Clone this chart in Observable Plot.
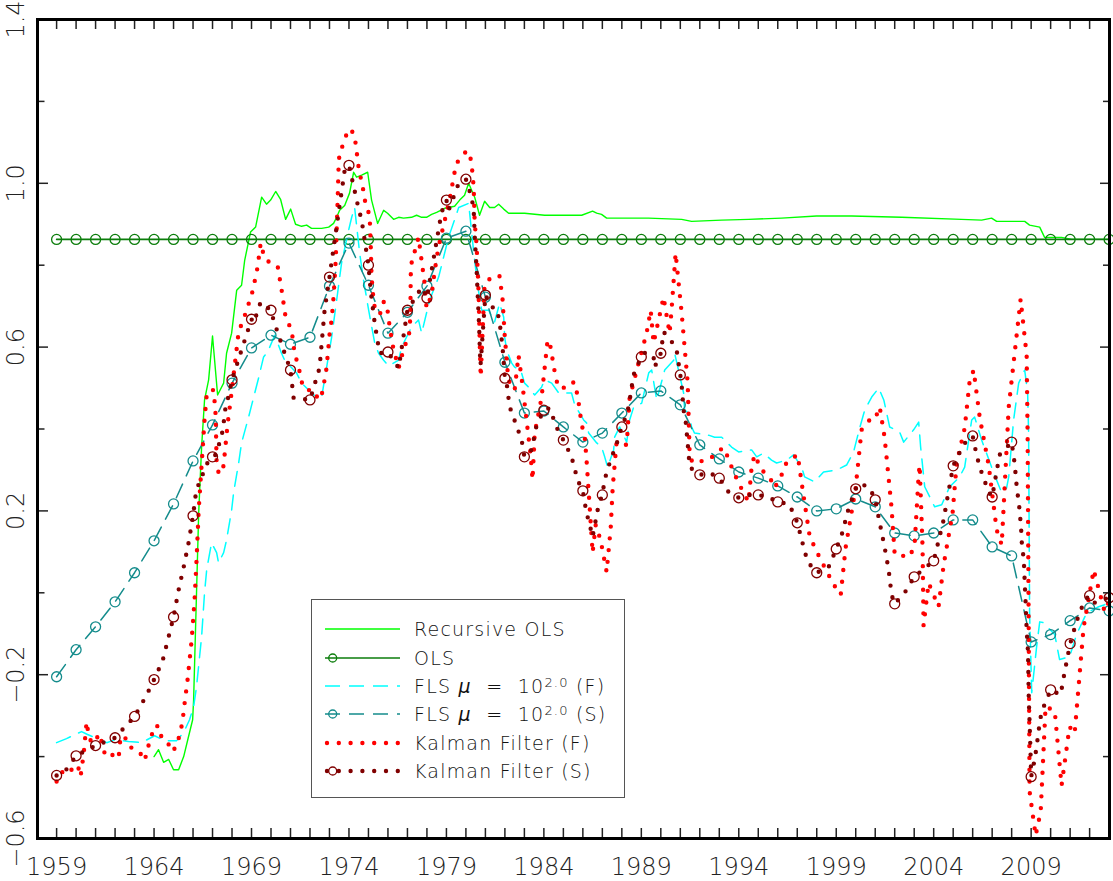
<!DOCTYPE html>
<html><head><meta charset="utf-8">
<script src="https://cdn.jsdelivr.net/npm/d3@7"></script>
<script src="https://cdn.jsdelivr.net/npm/@observablehq/plot@0.6"></script>
<style>
html,body{margin:0;padding:0;background:#fff;}
#wrap{position:relative;width:1113px;height:881px;overflow:hidden;}
#wrap svg text{font-weight:200;}
#legend{position:absolute;left:311px;top:599px;width:312px;height:197px;border:1.5px solid #555;background:#fff;
 font-family:"DejaVu Sans",sans-serif;font-weight:200;font-size:19px;color:#111;letter-spacing:1.2px;}
#legend .row{position:absolute;left:0;width:312px;height:24px;}
#legend .row svg{position:absolute;left:0;top:0;}
#legend .row span{position:absolute;left:102px;top:0;line-height:24px;white-space:nowrap;}
#legend sup{font-size:13px;vertical-align:6px;line-height:0;}
</style></head><body><div id="wrap"></div>
<script>
// ---------------- data ----------------
const olsEstimate = 0.863;
const yearsAll = [1959,1960,1961,1962,1963,1964,1965,1966,1967,1968,1969,1970,1971,1972,1973,1974,1975,1976,1977,1978,1979,1980,1981,1982,1983,1984,1985,1986,1987,1988,1989,1990,1991,1992,1993,1994,1995,1996,1997,1998,1999,2000,2001,2002,2003,2004,2005,2006,2007,2008,2009,2010,2011,2012,2013];

const recursiveOLS = [[1964.00,-0.40],[1964.23,-0.383],[1964.49,-0.414],[1964.75,-0.407],[1965.00,-0.432],[1965.26,-0.432],[1965.52,-0.40],[1965.77,-0.351],[1965.98,-0.31],[1966.03,-0.261],[1966.29,0.195],[1966.44,0.356],[1966.59,0.471],[1966.80,0.52],[1967.00,0.627],[1967.26,0.483],[1967.57,0.512],[1967.72,0.585],[1967.98,0.634],[1968.24,0.739],[1968.49,0.751],[1968.65,0.812],[1968.95,0.881],[1969.21,0.893],[1969.52,0.966],[1969.77,0.949],[1969.98,0.959],[1970.24,0.98],[1970.49,0.961],[1970.75,0.912],[1971.01,0.937],[1971.26,0.90],[1971.57,0.895],[1971.83,0.898],[1972.08,0.89],[1972.60,0.89],[1972.96,0.893],[1973.21,0.902],[1973.37,0.917],[1973.52,0.934],[1973.78,0.946],[1974.03,0.976],[1974.24,1.027],[1974.39,1.015],[1974.65,1.02],[1974.96,1.027],[1975.16,0.959],[1975.47,0.902],[1975.78,0.934],[1975.98,0.927],[1976.29,0.912],[1976.55,0.917],[1976.80,0.915],[1977.21,0.917],[1977.47,0.922],[1977.73,0.917],[1977.98,0.917],[1978.24,0.924],[1978.50,0.929],[1978.91,0.939],[1979.42,0.944],[1979.68,0.959],[1979.93,0.971],[1980.14,1.0],[1980.45,0.966],[1980.70,0.922],[1980.96,0.956],[1981.22,0.941],[1981.47,0.941],[1981.68,0.949],[1981.94,0.937],[1982.19,0.927],[1983.01,0.927],[1984.04,0.922],[1985.94,0.922],[1986.50,0.932],[1986.71,0.927],[1986.96,0.924],[1987.22,0.915],[1989.37,0.915],[1991.07,0.912],[1991.58,0.907],[1993.12,0.91],[1994.50,0.912],[1996.20,0.915],[1997.99,0.92],[1999.79,0.92],[2002.36,0.917],[2005.43,0.912],[2006.46,0.91],[2006.97,0.915],[2007.23,0.907],[2008.67,0.907],[2008.92,0.898],[2009.44,0.893],[2009.69,0.868],[2009.95,0.868],[2010.56,0.868],[2011.08,0.863],[2013.00,0.863]];

const flsF = [[1959.00,-0.366],[1959.51,-0.356],[1960.28,-0.339],[1960.59,-0.346],[1961.57,-0.366],[1961.98,-0.359],[1962.69,-0.363],[1963.36,-0.366],[1964.03,-0.349],[1964.54,-0.361],[1965.16,-0.361],[1965.52,-0.341],[1965.82,-0.31],[1966.03,-0.278],[1966.18,-0.229],[1966.44,-0.107],[1966.59,0.0],[1966.70,0.056],[1966.95,0.122],[1967.21,0.098],[1967.31,0.073],[1967.57,0.098],[1967.72,0.129],[1967.98,0.202],[1968.08,0.244],[1968.34,0.317],[1968.49,0.366],[1968.85,0.429],[1969.01,0.459],[1969.36,0.524],[1969.62,0.576],[1969.83,0.588],[1970.19,0.629],[1970.54,0.585],[1970.70,0.568],[1971.31,0.537],[1971.57,0.512],[1972.19,0.483],[1972.60,0.478],[1973.11,0.624],[1973.37,0.715],[1973.62,0.805],[1973.98,0.885],[1974.14,0.917],[1974.29,0.941],[1974.55,0.829],[1974.75,0.763],[1975.01,0.69],[1975.32,0.61],[1975.52,0.585],[1975.78,0.568],[1976.03,0.554],[1976.55,0.568],[1976.70,0.60],[1977.21,0.649],[1977.57,0.666],[1977.73,0.634],[1978.14,0.715],[1978.60,0.771],[1979.11,0.868],[1979.63,0.941],[1980.14,0.951],[1980.40,0.832],[1980.60,0.751],[1980.81,0.69],[1981.17,0.69],[1981.47,0.661],[1981.73,0.707],[1981.94,0.673],[1981.99,0.624],[1982.09,0.593],[1982.35,0.561],[1982.50,0.551],[1982.81,0.544],[1983.01,0.512],[1983.22,0.502],[1983.53,0.483],[1983.88,0.502],[1984.04,0.52],[1984.40,0.512],[1984.76,0.488],[1985.42,0.488],[1985.58,0.459],[1986.04,0.422],[1986.19,0.415],[1986.30,0.39],[1986.71,0.366],[1986.96,0.356],[1987.12,0.332],[1987.27,0.307],[1987.58,0.349],[1987.63,0.38],[1987.89,0.405],[1988.25,0.368],[1988.40,0.422],[1988.61,0.454],[1989.02,0.463],[1989.38,0.537],[1989.53,0.544],[1989.79,0.471],[1990.20,0.544],[1990.66,0.568],[1990.71,0.585],[1991.17,0.488],[1991.22,0.446],[1991.43,0.439],[1991.58,0.405],[1991.73,0.39],[1992.45,0.385],[1992.76,0.38],[1993.12,0.38],[1993.63,0.356],[1993.99,0.344],[1994.66,0.349],[1994.92,0.332],[1995.27,0.341],[1995.68,0.324],[1995.94,0.317],[1996.46,0.324],[1996.81,0.337],[1997.22,0.307],[1997.38,0.283],[1997.89,0.271],[1998.35,0.295],[1999.02,0.30],[1999.53,0.312],[1999.89,0.344],[2000.20,0.402],[2000.46,0.446],[2000.82,0.478],[2001.18,0.50],[2001.44,0.471],[2001.74,0.405],[2002.25,0.393],[2002.46,0.368],[2002.97,0.398],[2003.23,0.417],[2003.33,0.356],[2003.54,0.259],[2004.05,0.21],[2004.41,0.215],[2004.82,0.259],[2005.33,0.283],[2005.59,0.307],[2005.95,0.422],[2006.10,0.429],[2006.46,0.373],[2007.08,0.293],[2007.49,0.244],[2007.74,0.256],[2007.85,0.283],[2008.10,0.422],[2008.36,0.512],[2008.67,0.544],[2008.82,0.488],[2008.87,0.39],[2008.92,-0.049],[2009.03,-0.244],[2009.28,-0.132],[2009.44,-0.071],[2009.64,-0.073],[2010.21,-0.102],[2010.46,-0.163],[2010.97,-0.156],[2011.33,-0.102],[2011.85,-0.049],[2012.46,-0.034],[2012.77,-0.029],[2012.98,-0.024]];

const flsS = [-0.205,-0.139,-0.083,-0.022,0.049,0.127,0.217,0.322,0.41,0.512,
  0.598,0.629,0.607,0.624,0.749,0.854,0.751,0.634,0.685,0.749,
  0.866,0.883,0.722,0.563,0.439,0.444,0.405,0.368,0.39,0.439,
  0.488,0.493,0.459,0.361,0.327,0.295,0.28,0.261,0.234,0.20,
  0.205,0.229,0.21,0.146,0.139,0.146,0.178,0.178,0.112,0.09,
  -0.12,-0.102,-0.068,-0.037,-0.044];

const kalmanF = [[1959.00,-0.461],[1959.26,-0.437],[1959.51,-0.444],[1959.77,-0.432],[1960.08,-0.42],[1960.23,-0.449],[1960.39,-0.393],[1960.54,-0.315],[1960.64,-0.346],[1960.80,-0.368],[1961.00,-0.359],[1961.21,-0.344],[1961.36,-0.373],[1961.51,-0.40],[1961.82,-0.395],[1962.18,-0.405],[1962.28,-0.351],[1962.49,-0.351],[1962.75,-0.378],[1962.95,-0.378],[1963.31,-0.393],[1963.52,-0.41],[1963.67,-0.38],[1964.03,-0.324],[1964.28,-0.327],[1964.39,-0.356],[1964.70,-0.366],[1964.95,-0.388],[1965.21,-0.368],[1965.31,-0.344],[1965.46,-0.317],[1965.52,-0.288],[1965.72,-0.212],[1965.93,-0.115],[1966.08,-0.017],[1966.18,0.08],[1966.29,0.202],[1966.44,0.312],[1966.59,0.422],[1966.70,0.483],[1966.80,0.495],[1967.06,0.495],[1967.16,0.434],[1967.21,0.32],[1967.31,0.293],[1967.52,0.293],[1967.62,0.337],[1967.77,0.41],[1967.93,0.471],[1968.34,0.637],[1968.70,0.683],[1969.06,0.737],[1969.31,0.795],[1969.47,0.854],[1969.67,0.817],[1969.93,0.807],[1970.34,0.798],[1970.54,0.741],[1970.75,0.673],[1971.06,0.641],[1971.21,0.585],[1971.42,0.551],[1971.57,0.515],[1971.78,0.495],[1972.19,0.495],[1972.44,0.471],[1972.60,0.483],[1972.75,0.52],[1972.85,0.549],[1973.01,0.634],[1973.11,0.666],[1973.21,0.722],[1973.32,0.812],[1973.42,0.959],[1973.47,1.044],[1973.52,1.076],[1973.78,1.102],[1973.93,1.132],[1974.24,1.124],[1974.34,1.098],[1974.50,1.037],[1974.75,0.98],[1974.85,0.949],[1975.06,0.922],[1975.11,0.861],[1975.16,0.771],[1975.26,0.715],[1975.37,0.683],[1975.62,0.683],[1975.78,0.71],[1975.93,0.708],[1976.09,0.649],[1976.29,0.593],[1976.44,0.568],[1976.55,0.549],[1976.86,0.605],[1977.06,0.617],[1977.15,0.673],[1977.17,0.776],[1977.21,0.805],[1977.57,0.868],[1977.88,0.756],[1977.98,0.695],[1978.24,0.727],[1978.39,0.783],[1978.55,0.832],[1978.65,0.856],[1979.16,0.959],[1979.42,1.027],[1979.52,1.049],[1980.04,1.08],[1980.19,1.071],[1980.29,1.049],[1980.40,0.99],[1980.45,0.905],[1980.55,0.849],[1980.65,0.734],[1980.72,0.59],[1980.76,0.527],[1980.96,0.756],[1981.47,0.776],[1981.73,0.773],[1981.88,0.717],[1981.99,0.629],[1982.14,0.541],[1982.24,0.512],[1982.50,0.495],[1982.70,0.58],[1982.91,0.505],[1983.11,0.422],[1983.32,0.337],[1983.37,0.305],[1983.42,0.276],[1983.53,0.39],[1983.88,0.476],[1984.19,0.617],[1984.30,0.612],[1984.60,0.527],[1984.76,0.50],[1985.32,0.502],[1985.53,0.515],[1985.73,0.483],[1985.94,0.41],[1986.09,0.385],[1986.19,0.324],[1986.35,0.21],[1986.50,0.098],[1986.66,0.166],[1986.91,0.129],[1987.22,0.051],[1987.43,0.159],[1987.53,0.256],[1987.73,0.368],[1988.25,0.361],[1988.40,0.476],[1988.86,0.561],[1989.27,0.634],[1989.48,0.69],[1989.63,0.61],[1990.14,0.722],[1990.45,0.634],[1990.55,0.69],[1990.76,0.829],[1991.07,0.683],[1991.38,0.512],[1991.48,0.337],[1991.63,0.317],[1991.84,0.32],[1992.45,0.324],[1993.02,0.349],[1993.27,0.354],[1993.48,0.324],[1993.99,0.268],[1994.50,0.222],[1994.66,0.307],[1994.81,0.337],[1995.17,0.30],[1995.58,0.283],[1995.84,0.256],[1996.25,0.293],[1996.46,0.32],[1997.02,0.337],[1997.28,0.251],[1997.64,0.137],[1998.20,0.081],[1998.87,0.02],[1999.23,-0.005],[1999.48,0.11],[1999.99,0.254],[2000.30,0.398],[2000.71,0.422],[2000.97,0.422],[2001.23,0.454],[2001.48,0.38],[2001.84,0.207],[2002.00,0.093],[2002.77,0.088],[2003.02,0.117],[2003.23,0.288],[2003.28,0.312],[2003.43,0.11],[2003.48,-0.08],[2003.74,0.024],[2004.25,-0.034],[2004.51,0.068],[2004.97,0.195],[2005.18,0.317],[2005.59,0.402],[2005.84,0.515],[2006.05,0.544],[2006.36,0.429],[2006.82,0.312],[2007.23,0.154],[2007.49,0.117],[2007.85,0.454],[2008.46,0.717],[2008.77,0.58],[2008.82,0.38],[2008.92,-0.485],[2009.23,-0.593],[2009.49,-0.534],[2009.74,-0.278],[2010.21,-0.288],[2010.56,-0.471],[2010.97,-0.327],[2011.23,-0.344],[2011.69,-0.085],[2012.21,0.056],[2012.77,-0.046],[2012.98,-0.022]];

const kalmanS = [[1959,-0.446],[1959.41,-0.437],[1959.62,-0.424],[1960,-0.398],[1961,-0.373],[1961.77,-0.359],[1962,-0.354],[1962.28,-0.339],[1962.85,-0.31],[1963,-0.302],[1963.26,-0.28],[1963.57,-0.254],[1964,-0.212],[1964.44,-0.166],[1964.75,-0.107],[1965,-0.059],[1965.26,0.007],[1965.52,0.063],[1965.77,0.122],[1966,0.188],[1966.13,0.237],[1966.29,0.266],[1966.80,0.324],[1967,0.332],[1967.21,0.339],[1967.36,0.368],[1967.52,0.395],[1967.67,0.454],[1967.82,0.48],[1968,0.52],[1968.49,0.593],[1969,0.668],[1969.11,0.659],[1969.47,0.71],[1970,0.69],[1970.13,0.666],[1970.70,0.585],[1971,0.544],[1971.16,0.476],[1972,0.471],[1972.49,0.549],[1972.75,0.69],[1973,0.771],[1973.78,1.032],[1974,1.044],[1974.49,0.939],[1974.65,0.91],[1975,0.80],[1975.11,0.739],[1975.32,0.659],[1975.57,0.585],[1976,0.588],[1976.55,0.549],[1977,0.69],[1977.73,0.746],[1978,0.72],[1978.39,0.829],[1978.75,0.929],[1979,0.959],[1979.11,0.934],[1979.63,1.0],[1980,1.01],[1980.29,0.966],[1980.40,0.934],[1980.45,0.873],[1980.55,0.788],[1980.60,0.732],[1980.68,0.649],[1980.72,0.585],[1980.75,0.556],[1981,0.727],[1981.32,0.698],[1981.58,0.694],[1981.73,0.661],[1981.88,0.60],[1982,0.524],[1982.09,0.512],[1982.24,0.455],[1982.86,0.373],[1982.96,0.344],[1983,0.332],[1983.37,0.349],[1983.63,0.41],[1984,0.446],[1984.30,0.451],[1984.50,0.424],[1984.71,0.398],[1985,0.373],[1985.37,0.337],[1985.58,0.307],[1985.68,0.28],[1986,0.249],[1986.09,0.222],[1986.19,0.195],[1986.35,0.166],[1986.50,0.137],[1986.81,0.215],[1987,0.239],[1987.12,0.276],[1987.27,0.302],[1987.48,0.332],[1987.68,0.356],[1988,0.405],[1988.14,0.422],[1988.35,0.454],[1988.60,0.532],[1988.86,0.561],[1989,0.576],[1989.22,0.588],[1989.63,0.576],[1989.68,0.551],[1990,0.585],[1990.14,0.637],[1990.45,0.622],[1990.81,0.593],[1991,0.532],[1991.07,0.507],[1991.17,0.446],[1991.27,0.422],[1991.43,0.337],[1991.48,0.307],[1992,0.288],[1992.51,0.293],[1993,0.28],[1993.48,0.246],[1994,0.232],[1994.51,0.239],[1995,0.239],[1995.48,0.234],[1996,0.222],[1996.56,0.217],[1996.87,0.188],[1997,0.171],[1997.22,0.132],[1997.38,0.10],[1997.58,0.073],[1998,0.049],[1998.61,0.063],[1999,0.107],[1999.12,0.122],[1999.33,0.149],[1999.48,0.178],[1999.64,0.207],[2000,0.254],[2000.20,0.268],[2000.72,0.256],[2001,0.227],[2001.23,0.171],[2001.48,0.112],[2001.69,0.056],[2001.84,-0.005],[2002,-0.027],[2002.51,0.0],[2003,0.039],[2004,0.078],[2004.51,0.178],[2004.66,0.22],[2005,0.31],[2005.54,0.363],[2006,0.383],[2006.20,0.337],[2006.36,0.307],[2006.82,0.246],[2007,0.234],[2007.38,0.337],[2008,0.368],[2008.15,0.317],[2008.26,0.259],[2008.41,0.202],[2008.50,0.146],[2008.53,0.112],[2008.62,0.085],[2008.67,0.027],[2008.72,-0.029],[2008.77,-0.09],[2008.84,-0.146],[2008.88,-0.261],[2008.92,-0.317],[2008.96,-0.376],[2009,-0.449],[2009.18,-0.407],[2009.28,-0.376],[2009.44,-0.317],[2009.54,-0.29],[2010,-0.237],[2010.51,-0.249],[2010.62,-0.22],[2010.72,-0.193],[2011,-0.124],[2011.13,-0.105],[2011.28,-0.076],[2011.75,-0.017],[2012,-0.007],[2012.26,-0.024],[2012.62,-0.017],[2013,-0.012]];

const tickYears = d3.range(1959, 2013);
const labelYears = [1959,1964,1969,1974,1979,1984,1989,1994,1999,2004,2009];
const yMajor = [-0.6,-0.2,0.2,0.6,1.0,1.4];
const yMinor = [-0.4,0.0,0.4,0.8,1.2];

// ---------------- colours ----------------
const C = {rols:"#00ff00", ols:"#0b7d0b", flsF:"#00ffff", flsS:"#148c8c", kfF:"#ff0000", kfS:"#800000"};

const olsSeries = yearsAll.map(y => ({x: y, y: olsEstimate}));
const flsSSeries = yearsAll.map((y, i) => ({x: y, y: flsS[i]}));
const ksMarkers = kalmanS.filter(d => Number.isInteger(d[0]));
const dotted = {strokeWidth: 4.4, strokeDasharray: "0 11.8", strokeLinecap: "round"};
const dashed = {strokeWidth: 1.5, strokeDasharray: "15 9"};
const fmt = d => (d < 0 ? "\u2212" : "") + Math.abs(d).toFixed(1);
const plotW = 1113 - 37 - 4, plotH = 881 - 19 - 43;

const chart = Plot.plot({
  width: 1113, height: 881,
  marginLeft: 37, marginRight: 4, marginTop: 19, marginBottom: 43,
  x: {domain: [1958.02, 2013.02], axis: null},
  y: {domain: [-0.6, 1.4], axis: null},
  style: {fontFamily: '"DejaVu Sans", sans-serif', fontSize: "24px", color: "#333", background: "#fff"},
  marks: [
    Plot.line(recursiveOLS, {x: d => d[0], y: d => d[1], stroke: C.rols, strokeWidth: 1.4}),
    Plot.line(olsSeries, {x: "x", y: "y", stroke: C.ols, strokeWidth: 1.6}),
    Plot.dot(olsSeries, {x: "x", y: "y", r: 5, stroke: C.ols, fill: "none", strokeWidth: 1.3}),
    Plot.line(flsF, {x: d => d[0], y: d => d[1], stroke: C.flsF, ...dashed}),
    Plot.line(flsSSeries, {x: "x", y: "y", stroke: C.flsS, ...dashed}),
    Plot.dot(flsSSeries, {x: "x", y: "y", r: 5, stroke: C.flsS, fill: "none", strokeWidth: 1.3}),
    Plot.line(kalmanF, {x: d => d[0], y: d => d[1], stroke: C.kfF, ...dotted}),
    Plot.line(kalmanS, {x: d => d[0], y: d => d[1], stroke: C.kfS, ...dotted}),
    Plot.dot(ksMarkers, {x: d => d[0], y: d => d[1], r: 5, stroke: C.kfS, fill: "none", strokeWidth: 1.3}),
    // inward ticks
    Plot.ruleX(tickYears, {x: d => d, insetTop: plotH - 10, stroke: "#222", strokeWidth: 1.5}),
    Plot.ruleX(tickYears, {x: d => d, insetBottom: plotH - 10, stroke: "#222", strokeWidth: 1.5}),
    Plot.ruleY(yMajor, {y: d => d, insetRight: plotW - 11, stroke: "#222", strokeWidth: 1.5}),
    Plot.ruleY(yMinor, {y: d => d, insetRight: plotW - 7.5, stroke: "#222", strokeWidth: 1.5}),
    Plot.ruleY(yMajor, {y: d => d, insetLeft: plotW - 9, stroke: "#222", strokeWidth: 1.5}),
    Plot.ruleY(yMinor, {y: d => d, insetLeft: plotW - 6, stroke: "#222", strokeWidth: 1.5}),
    Plot.frame({stroke: "#000", strokeWidth: 3}),
    // tick labels
    Plot.text(labelYears, {x: d => d, text: d => String(d), frameAnchor: "bottom", dy: 29, lineAnchor: "middle", fill: "#222", fontSize: 24}),
    Plot.text(yMajor, {y: d => d, text: fmt, frameAnchor: "left", dx: -21, rotate: -90, textAnchor: "middle", lineAnchor: "middle", fill: "#222", fontSize: 24})
  ]
});

const wrap = document.getElementById("wrap");
wrap.appendChild(chart);

// ---------------- legend ----------------
const legendItems = [
  {label: "Recursive OLS", color: C.rols, style: "solid", marker: false, w: 1.6},
  {label: "OLS", color: C.ols, style: "solid", marker: true, w: 1.6},
  {label: "FLS&nbsp;<i>\u03bc</i>&nbsp;&nbsp;=&nbsp;&nbsp;10<sup>2.0</sup>&nbsp;(F)", color: C.flsF, style: "dash", marker: false, w: 1.5},
  {label: "FLS&nbsp;<i>\u03bc</i>&nbsp;&nbsp;=&nbsp;&nbsp;10<sup>2.0</sup>&nbsp;(S)", color: C.flsS, style: "dash", marker: true, w: 1.5},
  {label: "Kalman Filter (F)", color: C.kfF, style: "dot", marker: false, w: 4.4},
  {label: "Kalman Filter (S)", color: C.kfS, style: "dot", marker: true, w: 4.4}
];
const rowTops = [17, 46, 74, 102, 131, 159];
const legend = document.createElement("div");
legend.id = "legend";
legendItems.forEach((it, i) => {
  const dash = it.style === "dash" ? 'stroke-dasharray="15 9"' : it.style === "dot" ? 'stroke-dasharray="0 11.8" stroke-linecap="round"' : "";
  const x1 = it.style === "dot" ? 15 : 13;
  const mk = it.marker ? `<circle cx="20.7" cy="12" r="4" fill="none" stroke="${it.color}" stroke-width="1.3"/>` : "";
  const row = document.createElement("div");
  row.className = "row";
  row.style.top = rowTops[i] + "px";
  row.innerHTML = `<svg width="95" height="24"><line x1="${x1}" x2="88" y1="12" y2="12" stroke="${it.color}" stroke-width="${it.w}" ${dash}/>${mk}</svg><span>${it.label}</span>`;
  legend.appendChild(row);
});
wrap.appendChild(legend);
</script></body></html>
